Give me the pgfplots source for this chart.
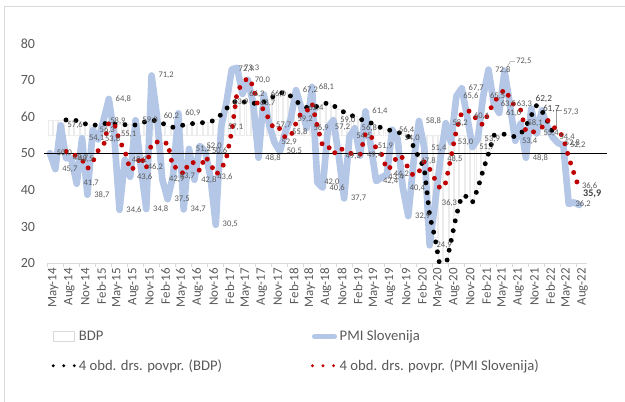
\documentclass[border=0pt]{standalone}
\usepackage{pgfplots}
\pgfplotsset{compat=1.18}
\usepackage{pgfplotstable}
\usepackage{fontspec}
\setmainfont{Carlito}
\definecolor{pmiblue}{HTML}{B4C7E7}
\definecolor{mared}{HTML}{C00000}
\definecolor{labgray}{HTML}{595959}
\definecolor{darklab}{HTML}{404040}
\definecolor{axisgray}{HTML}{D9D9D9}
\definecolor{bargray}{HTML}{ECECEC}
\newcommand\lblfont{\fontsize{6.4}{7}\selectfont}

\pgfplotstableread{
x y
0 50.0
1 45.7
2 57.6
3 48.7
4 48.5
5 41.7
6 54.1
7 38.7
8 56.3
9 53.8
10 58.9
11 64.8
12 55.1
13 34.6
14 48.2
15 43.6
16 59.0
17 46.2
18 34.8
19 71.2
20 60.2
21 42.9
22 37.5
23 43.7
24 60.9
25 34.7
26 51.2
27 42.8
28 52.0
29 50.6
30 43.6
31 30.5
32 57.1
33 63.9
34 72.9
35 73.3
36 66.2
37 70.0
38 63.7
39 48.8
40 66.0
41 57.7
42 52.9
43 50.5
44 55.8
45 59.2
46 67.2
47 62.4
48 56.9
49 68.1
50 42.0
51 40.6
52 57.2
53 59.0
54 49.3
55 37.7
56 54.5
57 56.8
58 49.4
59 61.4
60 51.9
61 42.4
62 43.4
63 44.2
64 56.4
65 54.0
66 40.4
67 32.9
68 47.8
69 58.8
70 51.4
71 24.9
72 36.3
73 48.5
74 58.2
75 53.0
76 65.6
77 67.7
78 60.1
79 51.7
80 53.9
81 65.5
82 72.8
83 63.5
84 61.0
85 72.5
86 63.3
87 53.4
88 58.1
89 48.8
90 62.2
91 55.4
92 61.7
93 57.3
94 54.4
95 52.8
96 52.2
97 36.2
98 36.6
99 35.9
}\pmi

\pgfplotstableread{
x y
3 50.50
4 50.13
5 49.13
6 48.25
7 45.75
8 47.70
9 50.73
10 51.93
11 58.45
12 58.15
13 53.35
14 50.68
15 45.38
16 46.35
17 49.25
18 45.90
19 52.80
20 53.10
21 52.28
22 52.95
23 46.08
24 46.25
25 44.20
26 47.63
27 47.40
28 45.18
29 49.15
30 47.25
31 44.18
32 45.45
33 48.78
34 56.10
35 66.80
36 69.08
37 70.60
38 68.30
39 62.18
40 62.13
41 59.05
42 56.35
43 56.78
44 54.23
45 54.60
46 58.18
47 61.15
48 61.43
49 63.65
50 57.35
51 51.90
52 51.98
53 49.70
54 51.53
55 50.80
56 50.13
57 49.58
58 49.60
59 55.53
60 54.88
61 51.28
62 49.78
63 45.48
64 46.60
65 49.50
66 48.75
67 45.93
68 43.78
69 44.98
70 47.73
71 45.73
72 42.85
73 40.28
74 41.98
75 49.00
76 56.33
77 61.13
78 61.60
79 61.28
80 58.35
81 57.80
82 60.98
83 63.93
84 65.70
85 67.45
86 65.08
87 62.55
88 61.83
89 55.90
90 55.63
91 56.13
92 57.03
93 59.15
94 57.20
95 56.55
96 54.18
97 48.90
98 44.45
99 40.23
}\pmima

\pgfplotstableread{
x y
3 59.1
4 59.1
5 58.9
6 58.4
7 57.8
8 57.6
9 57.8
10 58.1
11 58.1
12 58.0
13 57.9
14 57.8
15 57.8
16 57.7
17 58.2
18 58.7
19 59.0
20 58.9
21 58.2
22 57.5
23 57.1
24 57.4
25 57.7
26 57.9
27 58.2
28 58.3
29 58.4
30 58.6
31 59.2
32 60.6
33 62.2
34 63.6
35 64.4
36 64.1
37 63.8
38 63.6
39 63.7
40 64.0
41 64.8
42 65.7
43 66.4
44 66.7
45 65.6
46 64.2
47 63.2
48 62.5
49 62.5
50 62.8
51 63.3
52 63.8
53 63.0
54 62.1
55 61.2
56 60.5
57 60.0
58 59.3
59 58.8
60 58.3
61 57.6
62 56.9
63 56.5
64 56.1
65 55.7
66 55.4
67 54.6
68 51.8
69 48.8
70 45.8
71 33.0
72 27.0
73 18.5
74 19.0
75 26.1
76 33.1
77 38.4
78 38.2
79 36.6
80 40.4
81 45.4
82 49.9
83 54.9
84 55.1
85 55.2
86 54.8
87 54.5
88 55.2
89 57.4
90 60.3
91 63.1
92 61.5
93 58.8
94 55.8
}\bdpma

% BDP columns, measured from their base line at 55
\pgfplotstableread{
x y
0 4.1
1 4.1
2 4.1
3 4.1
4 4.1
5 3.9
6 3.4
7 2.8
8 2.6
9 2.8
10 3.1
11 3.1
12 3.0
13 2.9
14 2.8
15 2.8
16 2.7
17 3.2
18 3.7
19 4.0
20 3.9
21 3.2
22 2.5
23 2.1
24 2.4
25 2.7
26 2.9
27 3.2
28 3.3
29 3.4
30 3.6
31 4.2
32 5.6
33 7.2
34 8.6
35 9.4
36 9.1
37 8.8
38 8.6
39 8.7
40 9.0
41 9.8
42 10.7
43 11.4
44 11.7
45 10.6
46 9.2
47 8.2
48 7.5
49 7.5
50 7.8
51 8.3
52 8.8
53 8.0
54 7.1
55 6.2
56 5.5
57 5.0
58 4.3
59 3.8
60 3.3
61 2.6
62 1.9
63 1.5
64 1.1
65 0.7
66 0.4
67 -0.4
68 -3.2
69 -6.2
70 -9.2
71 -22.0
72 -28.0
73 -36.5
74 -36.0
75 -28.9
76 -21.9
77 -16.6
78 -16.8
79 -18.4
80 -14.6
81 -9.6
82 -5.1
83 -0.1
84 0.1
85 0.2
86 -0.2
87 -0.5
88 0.2
89 2.4
90 5.3
91 8.1
92 6.5
93 3.8
94 0.8
}\bdp

\pgfplotstableread{
x y lab
0 50.0 50,0
1 45.7 45,7
2 57.6 57,6
3 48.7 48,7
4 48.5 48,5
5 41.7 41,7
6 54.1 54,1
7 38.7 38,7
8 56.3 56,3
9 53.8 53,8
10 58.9 58,9
11 64.8 64,8
12 55.1 55,1
13 34.6 34,6
14 48.2 48,2
15 43.6 43,6
16 59.0 59,0
17 46.2 46,2
18 34.8 34,8
19 71.2 71,2
20 60.2 60,2
21 42.9 42,9
22 37.5 37,5
23 43.7 43,7
24 60.9 60,9
25 34.7 34,7
26 51.2 51,2
27 42.8 42,8
28 52.0 52,0
29 50.6 50,6
30 43.6 43,6
31 30.5 30,5
32 57.1 57,1
33 63.9 63,9
34 72.9 72,9
35 73.3 73,3
36 66.2 66,2
37 70.0 70,0
38 63.7 63,7
39 48.8 48,8
40 66.0 66,0
41 57.7 57,7
42 52.9 52,9
43 50.5 50,5
44 55.8 55,8
45 59.2 59,2
46 67.2 67,2
47 62.4 62,4
48 56.9 56,9
49 68.1 68,1
50 42.0 42,0
51 40.6 40,6
52 57.2 57,2
53 59.0 59,0
54 49.3 49,3
55 37.7 37,7
56 54.5 54,5
57 56.8 56,8
58 49.4 49,4
59 61.4 61,4
60 51.9 51,9
61 42.4 42,4
62 43.4 43,4
63 44.2 44,2
64 56.4 56,4
65 54.0 54,0
66 40.4 40,4
67 32.9 32,9
68 47.8 47,8
69 58.8 58,8
70 51.4 51,4
71 24.9 24,9
72 36.3 36,3
73 48.5 48,5
74 58.2 58,2
75 53.0 53,0
76 65.6 65,6
77 67.7 67,7
78 60.1 60,1
79 51.7 51,7
80 53.9 53,9
81 65.5 65,5
82 72.8 72,8
83 63.5 63,5
84 61.0 61,0
85.9 75.0 72,5
86 63.3 63,3
87 53.4 53,4
88 58.1 58,1
89 48.8 48,8
91 55.4 55,4
94.7 61.3 57,3
94 54.4 54,4
95 52.8 52,8
96 52.2 52,2
97 36.2 36,2
98.2 41.1 36,6
}\lbls

\pgfplotstableread{
x y lab
89.5 64.8 62,2
90.9 62.1 61,7
}\lblsdark

\begin{document}
\begin{tikzpicture}
\useasboundingbox (0,0) rectangle (468.75pt,300.75pt);
\draw[axisgray, line width=0.75pt] (3pt,-2pt) -- (3pt,295.5pt) -- (472pt,295.5pt);

% BDP columns (secondary scale, base at 55)
\begin{axis}[
  at={(33pt,103.3pt)}, anchor=south west,
  scale only axis, width=422.4pt, height=165pt,
  xmin=-1.12, xmax=104.2, ymin=-35, ymax=25,
  hide axis, ybar, bar width=0.78,
]
\addplot[draw=bargray, fill=white, line width=0.3pt] table {\bdp};
\end{axis}

\begin{axis}[
  at={(33pt,103.3pt)}, anchor=south west,
  scale only axis, width=422.4pt, height=165pt,
  xmin=-1.12, xmax=104.2, ymin=20, ymax=80,
  axis x line*=bottom, axis y line*=left,
  y axis line style={draw=none},
  x axis line style={draw=axisgray, line width=0.75pt, shorten <=2.5pt, shorten >=14.9pt},
  xtick={0,3,...,99},
  xticklabels={May-14,Aug-14,Nov-14,Feb-15,May-15,Aug-15,Nov-15,Feb-16,May-16,Aug-16,Nov-16,Feb-17,May-17,Aug-17,Nov-17,Feb-18,May-18,Aug-18,Nov-18,Feb-19,May-19,Aug-19,Nov-19,Feb-20,May-20,Aug-20,Nov-20,Feb-21,May-21,Aug-21,Nov-21,Feb-22,May-22,Aug-22},
  minor xtick={-0.5,2.5,...,98.5},
  major tick length=0pt, minor tick length=2.6pt,
  tick align=outside,
  minor x tick style={axisgray, line width=0.75pt},
  ytick={20,30,...,80},
  ytick style={draw=none},
  x tick label style={rotate=90, anchor=east, font=\fontsize{9.7}{10}\selectfont, text=labgray, yshift=-2.4pt},
  y tick label style={font=\fontsize{10.5}{12}\selectfont, text=labgray, xshift=-3.2pt},
  /pgf/number format/assume math mode=true,
  legend columns=2,
  legend cell align=left,
  legend style={at={(0.006,-0.28)}, anchor=north west, draw=none, fill=none,
    font=\fontsize{11}{13}\selectfont, text=labgray,
    /tikz/column 2/.style={column sep=64.5pt}, row sep=8.5pt},
]
\addlegendimage{legend image code/.code={\draw[draw=axisgray, fill=white, line width=0.6pt] (0pt,-3.5pt) rectangle (15.5pt,3.5pt);}}
\addlegendentry{BDP}
\addlegendimage{legend image code/.code={\draw[pmiblue, line width=3.8pt, line cap=round] (1.5pt,0pt) -- (16.5pt,0pt);}}
\addlegendentry{PMI Slovenija}
\addlegendimage{legend image code/.code={\draw[black, line width=2.4pt, line cap=round, dash pattern=on 0pt off 7.9pt] (0pt,0pt) -- (16pt,0pt);}}
\addlegendentry{4 obd. drs. povpr. (BDP)}
\addlegendimage{legend image code/.code={\draw[mared, line width=2.4pt, line cap=round, dash pattern=on 0pt off 7.9pt] (0pt,0pt) -- (16pt,0pt);}}
\addlegendentry{4 obd. drs. povpr. (PMI Slovenija)}

\addplot[forget plot, pmiblue, line width=5pt, line join=round, line cap=round] table {\pmi};

\addplot[forget plot, only marks, mark=*, mark size=0pt, mark options={draw=none, fill=none},
  nodes near coords, point meta=explicit symbolic,
  every node near coord/.append style={anchor=west, font=\lblfont, text=labgray, inner sep=1pt, xshift=4pt}]
  table[meta=lab] {\lbls};
\addplot[forget plot, only marks, mark=*, mark size=0pt, mark options={draw=none, fill=none},
  nodes near coords, point meta=explicit symbolic,
  every node near coord/.append style={anchor=west, font=\fontsize{7}{8}\selectfont, text=darklab, inner sep=1pt, xshift=4pt}]
  table[meta=lab] {\lblsdark};
\addplot[forget plot, only marks, mark=*, mark size=0pt, mark options={draw=none, fill=none},
  nodes near coords, point meta=explicit symbolic,
  every node near coord/.append style={anchor=west, font=\bfseries\fontsize{7.6}{8}\selectfont, text=darklab, inner sep=1pt, xshift=4pt}]
  coordinates {(98.4,38.8) [35,9]};

\addplot[forget plot, labgray!60, line width=0.4pt] coordinates {(87.0,75.0) (86.1,75.0) (85.4,73.4)};
\addplot[forget plot, labgray!60, line width=0.4pt] coordinates {(95.7,61.7) (94.75,61.7) (94.75,57.5)};

\addplot[forget plot, black, line width=0.75pt] coordinates {(-1.12,50) (104.2,50)};

\addplot[forget plot, black, line width=3.7pt, line cap=round, dash pattern=on 0pt off 7.5pt] table {\bdpma};
\addplot[forget plot, mared, line width=3.7pt, line cap=round, dash pattern=on 0pt off 7.5pt] table {\pmima};
\end{axis}
\end{tikzpicture}
\end{document}
